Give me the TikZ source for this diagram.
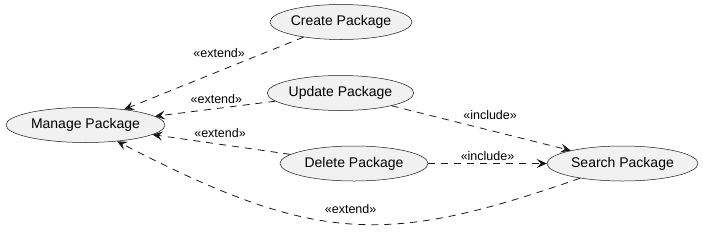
\documentclass[tikz,border=0pt]{standalone}
\usepackage{fontspec}
\setmainfont{Liberation Sans}
\usetikzlibrary{arrows.meta, shapes.geometric}

\definecolor{ucfill}{HTML}{F1F1F1}
\definecolor{ucline}{HTML}{181818}

\begin{document}
\begin{tikzpicture}[x=1pt, y=1pt, >={Stealth[length=10pt, width=9pt, inset=4pt]},
    usecase/.style={draw=ucline, fill=ucfill, ellipse, inner sep=0pt, line width=0.5pt, minimum height=35pt, font=\fontsize{14}{16}\selectfont},
    rel/.style={->, draw=ucline, line width=0.8pt, dash pattern=on 7pt off 6pt},
    lbl/.style={inner sep=0pt, font=\fontsize{12.5}{15}\selectfont}]
        \useasboundingbox (0,0) rectangle (703,-247);

        % use cases
        \node[usecase, minimum width=159pt] (manage) at (85.5,-125) {Manage Package};
        \node[usecase, minimum width=122pt] (create) at (341,-22) {Create Package};
        \node[usecase, minimum width=123pt] (update) at (340.5,-93) {Update Package};
        \node[usecase, minimum width=148pt] (delete) at (354,-163.5) {Delete Package};
        \node[usecase, minimum width=151pt] (search) at (622.5,-163.5) {Search Package};

        % extend / include relations
        \path (create) edge[rel] node[lbl, pos=0.47, above=13pt] {«extend»} (manage)
        (update) edge[rel] node[lbl, pos=0.49, above=4.5pt] {«extend»} (manage)
        (delete) edge[rel] node[lbl, pos=0.51, above=6pt] {«extend»} (manage)
        (update) edge[rel] node[lbl, pos=0.55, above=10pt] {«include»} (search)
        (delete) edge[rel] node[lbl, midway, above=2pt] {«include»} (search);
        \draw[rel] (search) .. controls (386,-245.7) and (316.6,-244.3) .. (manage)
        node[lbl, pos=0.5, above=10pt] {«extend»};
      \end{tikzpicture}
\end{document}
